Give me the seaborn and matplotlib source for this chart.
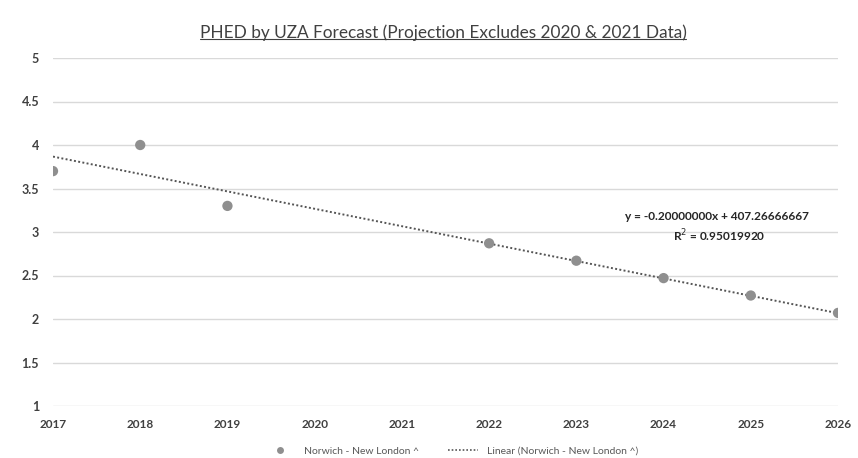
import matplotlib
matplotlib.use("Agg")
import matplotlib.pyplot as plt
import seaborn as sns
import numpy as np
import pandas as pd
from matplotlib.lines import Line2D

years = [2017, 2018, 2019, 2022, 2023, 2024, 2025, 2026]
phed = [3.70, 4.00, 3.30, 2.87, 2.67, 2.47, 2.27, 2.07]
trend_slope = -0.20000000
trend_intercept = 407.26666667
trend_x = [2017, 2026]
x_ticks = [2017, 2018, 2019, 2020, 2021, 2022, 2023, 2024, 2025, 2026]
y_ticks = [1, 1.5, 2, 2.5, 3, 3.5, 4, 4.5, 5]
y_tick_labels = ["1", "1.5", "2", "2.5", "3", "3.5", "4", "4.5", "5"]
title = "PHED by UZA Forecast (Projection Excludes 2020 & 2021 Data)"
series_name = "Norwich - New London ^"
trend_name = "Linear (Norwich - New London ^)"
eq_line1 = "y = -0.20000000x + 407.26666667"
eq_line2 = "R$^2$ = 0.95019920"

sns.set_theme(style="white")
plt.rcParams['font.family'] = ['Lato', 'DejaVu Sans']

df = pd.DataFrame({"year": years, "phed": phed})
tdf = pd.DataFrame({"year": trend_x,
                    "phed": [trend_slope * x + trend_intercept for x in trend_x]})

fig = plt.figure(figsize=(8.58, 4.58), dpi=100)
ax = fig.add_axes([53/858, 1-406/458, (838-53)/858, (406-58)/458])

for y in y_ticks:
    ax.axhline(y, color="#d9d9d9", lw=1.0, zorder=0)

sns.scatterplot(data=df, x="year", y="phed", ax=ax, color="#8f8f8f", s=55,
                edgecolor="none", zorder=3, legend=False)
sns.lineplot(data=tdf, x="year", y="phed", ax=ax, color="#555555", lw=1.4,
             linestyle=(0, (1, 1.2)), zorder=2, legend=False)

ax.set_xlim(2017, 2026)
ax.set_ylim(1, 5)
ax.set_xticks(x_ticks)
ax.set_xticklabels([str(x) for x in x_ticks], fontsize=8.5, fontweight="bold", color="#404040")
ax.set_yticks(y_ticks)
ax.set_yticklabels(y_tick_labels, fontsize=9, fontweight="bold", color="#404040")
ax.tick_params(axis="both", length=0)
ax.tick_params(axis="x", pad=9)
ax.tick_params(axis="y", pad=10)
ax.set_xlabel("")
ax.set_ylabel("")
for s in ax.spines.values():
    s.set_visible(False)

t = fig.text(443/858, 1-33/458, title, ha="center", va="center", fontsize=12.4, color="#404040")
fig.canvas.draw()
bb = t.get_window_extent(renderer=fig.canvas.get_renderer())
inv = fig.transFigure.inverted()
(x0, y0), (x1, y1) = inv.transform([(bb.x0, bb.y0), (bb.x1, bb.y1)])
fig.add_artist(Line2D([x0, x1], [y0 + 0.004, y0 + 0.004], transform=fig.transFigure,
                      color="#404040", lw=0.8))

fig.text(717/858, 1-217/458, eq_line1, ha="center", va="center", fontsize=8.6,
         fontweight="bold", color="#262626")
fig.text(719/858, 1-236/458, eq_line2, ha="center", va="center", fontsize=8.6,
         fontweight="bold", color="#262626")

# legend
h1 = Line2D([], [], marker="o", color="none", markerfacecolor="#8f8f8f",
            markeredgecolor="none", markersize=5)
h2 = Line2D([], [], color="#555555", lw=1.2, linestyle=(0, (1, 1.2)))
leg = fig.legend([h1, h2], [series_name, trend_name], loc="center",
                 bbox_to_anchor=(452/858, 1-451/458), ncol=2, frameon=False,
                 fontsize=7.5, handlelength=2.8, columnspacing=2.8, handletextpad=0.9,
                 borderpad=0)
for txt in leg.get_texts():
    txt.set_color("#595959")

fig.savefig("out.png", dpi=100)
